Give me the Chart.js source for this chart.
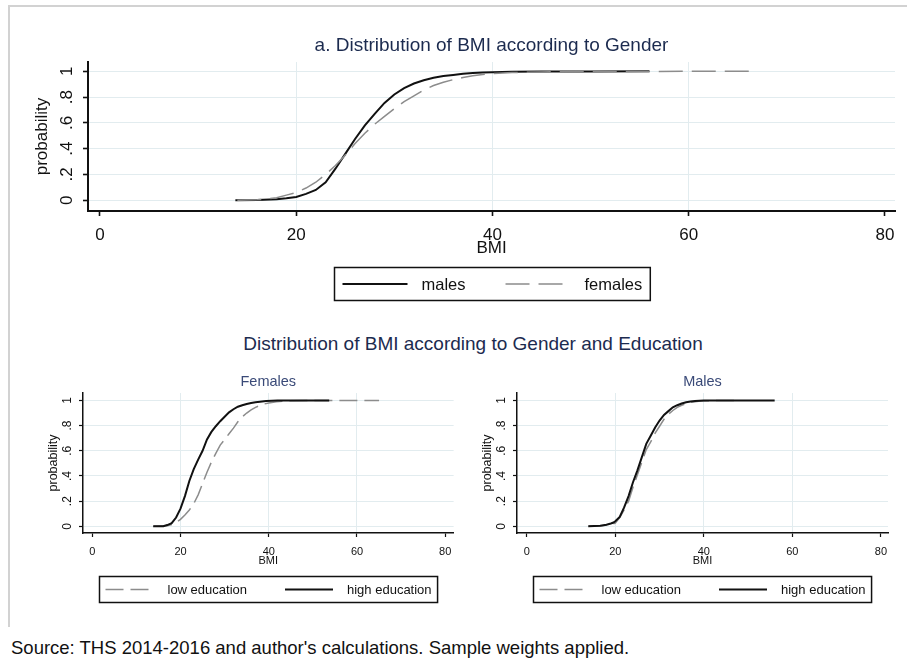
<!DOCTYPE html>
<html lang="en">
<head>
    <meta charset="UTF-8">
    <title>Distribution of BMI</title>
    <script src="https://cdn.jsdelivr.net/npm/chart.js"></script>
    <style>
        body {
            margin: 0;
            background: #fff;
            font-family: "Liberation Sans", Arial, sans-serif;
        }
        #page {
            position: relative;
            width: 907px;
            height: 663px;
            overflow: hidden;
        }
        .frame {
            position: absolute;
            left: 8px;
            top: 5px;
            width: 905px;
            height: 620px;
            border-left: 2px solid #d2d2d2;
            border-top: 2px solid #d2d2d2;
        }
        canvas { position: absolute; }
        #subTitle {
            position: absolute;
            left: 473px;
            top: 333px;
            transform: translateX(-50%);
            white-space: nowrap;
            font-size: 19px;
            line-height: 22px;
            color: #1c2b4f;
        }
        #source {
            position: absolute;
            left: 11px;
            top: 637px;
            white-space: nowrap;
            font-size: 18.5px;
            line-height: 21px;
            color: #111;
        }
    </style>
</head>
<body>
<div id="page">
    <div class="frame"></div>
    <canvas id="genderChart" width="907" height="310" style="left:0;top:0"></canvas>
    <div id="subTitle">Distribution of BMI according to Gender and Education</div>
    <canvas id="femalesChart" width="460" height="255" style="left:0;top:355px"></canvas>
    <canvas id="malesChart" width="447" height="255" style="left:460px;top:355px"></canvas>
    <div id="source">Source: THS 2014-2016 and author's calculations. Sample weights applied.</div>
</div>

<script>
    // --- данные ---
    const xTicks = [0, 20, 40, 60, 80];
    const yTicks = [0, 0.2, 0.4, 0.6, 0.8, 1];
    const yTickLabels = ['0', '.2', '.4', '.6', '.8', '1'];

    // a. по полу
    const bmiMales  = [13.8, 16, 18, 19, 20, 21, 22, 23, 24, 25, 26, 27, 28, 29, 30, 31, 32, 33, 34, 35, 36, 37, 38, 39, 40, 42, 45, 50, 56];
    const probMales = [0, 0.002, 0.008, 0.015, 0.026, 0.05, 0.08, 0.14, 0.245, 0.36, 0.475, 0.58, 0.67, 0.755, 0.82, 0.87, 0.905, 0.93, 0.95, 0.963, 0.972, 0.98, 0.986, 0.99, 0.993, 0.996, 0.998, 0.999, 1];
    const bmiFemales  = [14, 16, 17, 18, 19, 20, 21, 22, 23, 24, 25, 26, 27, 28, 29, 30, 31, 32, 33, 34, 35, 36, 37, 38, 39, 40, 42, 45, 50, 55, 66.3];
    const probFemales = [0, 0.004, 0.01, 0.02, 0.04, 0.06, 0.095, 0.14, 0.2, 0.27, 0.35, 0.44, 0.52, 0.59, 0.65, 0.71, 0.765, 0.81, 0.855, 0.89, 0.915, 0.935, 0.952, 0.965, 0.975, 0.982, 0.99, 0.995, 0.998, 0.999, 1];

    // женщины по образованию
    const bmiFemLow  = [14, 17, 18, 19, 20, 21, 22, 23, 24, 25, 26, 27, 28, 29, 30, 31, 32, 33, 34, 35, 36, 37, 38, 39, 40, 41.7, 44, 50, 65];
    const probFemLow = [0, 0.005, 0.015, 0.03, 0.055, 0.09, 0.13, 0.18, 0.25, 0.34, 0.43, 0.51, 0.58, 0.645, 0.69, 0.735, 0.78, 0.83, 0.87, 0.9, 0.925, 0.945, 0.96, 0.972, 0.98, 0.99, 0.997, 0.999, 1];
    const bmiFemHigh  = [13.8, 16.1, 17, 18, 19, 20, 21, 22, 23, 24, 25, 26, 27, 28, 29, 30, 31, 32, 33, 34, 35, 36, 37, 38, 39.4, 42, 53.7];
    const probFemHigh = [0, 0, 0.01, 0.025, 0.07, 0.14, 0.24, 0.36, 0.455, 0.53, 0.6, 0.69, 0.75, 0.795, 0.835, 0.87, 0.905, 0.93, 0.95, 0.962, 0.972, 0.98, 0.986, 0.99, 0.996, 0.999, 1];

    // мужчины по образованию
    const bmiMaleLow  = [14, 17, 19, 20, 21, 22, 23, 24, 25, 26, 27, 28, 29, 30, 31, 32, 33, 34, 35, 36, 37, 38, 39.3, 42, 48];
    const probMaleLow = [0, 0.004, 0.015, 0.025, 0.07, 0.13, 0.2, 0.31, 0.41, 0.51, 0.61, 0.67, 0.74, 0.795, 0.85, 0.89, 0.92, 0.945, 0.962, 0.975, 0.984, 0.99, 0.995, 0.999, 1];
    const bmiMaleHigh  = [13.9, 16.6, 18, 19, 19.6, 20, 21, 22, 23, 24, 25, 26, 27, 28, 29, 30, 31, 32, 33, 34, 35, 36, 37, 38, 40, 56];
    const probMaleHigh = [0, 0.005, 0.012, 0.022, 0.03, 0.04, 0.075, 0.15, 0.24, 0.35, 0.445, 0.55, 0.655, 0.72, 0.785, 0.84, 0.885, 0.915, 0.945, 0.962, 0.975, 0.985, 0.992, 0.996, 0.999, 1];

    const GRID = '#e2ecef';
    const GRAY = '#8c8c8c';
    const FONT = '"Liberation Sans", Arial, sans-serif';

    function pts(xs, ys) {
        return xs.map((x, i) => ({ x: x, y: ys[i] }));
    }

    // легенда в рамке, как в Stata
    const boxLegend = {
        id: 'boxLegend',
        afterDraw(chart, args, opts) {
            const ctx = chart.ctx;
            const area = chart.chartArea;
            ctx.save();
            ctx.font = opts.font;
            const items = opts.items.map(i => {
                const ds = chart.data.datasets[i];
                return { ds: ds, w: opts.lineLen + opts.gap + ctx.measureText(ds.label).width };
            });
            const total = items.reduce((s, it) => s + it.w, 0) + opts.itemGap * (items.length - 1) + 2 * opts.padX;
            const left = Math.round((area.left + area.right) / 2 - total / 2) + 0.5;
            const top = Math.round(area.bottom + opts.offset) + 0.5;
            ctx.lineWidth = 1.5;
            ctx.strokeStyle = '#111';
            ctx.strokeRect(left, top, total, opts.height);
            let x = left + opts.padX;
            const y = top + opts.height / 2;
            items.forEach(it => {
                ctx.beginPath();
                ctx.setLineDash(it.ds.borderDash || []);
                ctx.strokeStyle = it.ds.borderColor;
                ctx.lineWidth = it.ds.borderWidth;
                ctx.moveTo(x, y);
                ctx.lineTo(x + opts.lineLen, y);
                ctx.stroke();
                ctx.setLineDash([]);
                ctx.fillStyle = '#111';
                ctx.textBaseline = 'middle';
                ctx.textAlign = 'left';
                ctx.fillText(it.ds.label, x + opts.lineLen + opts.gap, y + 1);
                x += it.w + opts.itemGap;
            });
            ctx.restore();
        }
    };

    function panel(id, datasets, s) {
        return new Chart(document.getElementById(id), {
            type: 'line',
            data: { datasets: datasets },
            plugins: [boxLegend],
            options: {
                responsive: false,
                animation: false,
                events: [],
                layout: { padding: s.pad },
                elements: { point: { radius: 0 }, line: { tension: 0 } },
                plugins: {
                    legend: { display: false },
                    tooltip: { enabled: false },
                    title: {
                        display: true,
                        text: s.title,
                        fullSize: false,
                        color: s.titleColor,
                        font: { family: FONT, size: s.titleSize, weight: 'normal', lineHeight: 1.2 },
                        padding: s.titlePad
                    },
                    boxLegend: s.legend
                },
                scales: {
                    x: {
                        type: 'linear',
                        min: s.xMin,
                        max: s.xMax,
                        afterBuildTicks: sc => { sc.ticks = xTicks.map(v => ({ value: v })); },
                        afterFit: sc => { sc.height = s.xH; },
                        border: { color: '#111', width: s.axisW },
                        grid: {
                            color: c => (c.tick && c.tick.value > 0 && c.tick.value < 80) ? GRID : 'rgba(0,0,0,0)',
                            lineWidth: 1,
                            tickColor: '#111',
                            tickWidth: s.axisW * 0.8,
                            tickLength: s.tl
                        },
                        ticks: {
                            color: '#111',
                            maxRotation: 0,
                            autoSkip: false,
                            padding: s.xPad,
                            font: { family: FONT, size: s.tickSize }
                        },
                        title: {
                            display: true,
                            text: 'BMI',
                            color: '#111',
                            font: { family: FONT, size: s.tickSize, lineHeight: 1.2 },
                            padding: { top: 0, bottom: s.xTitlePad }
                        }
                    },
                    y: {
                        min: s.yMin,
                        max: s.yMax,
                        afterBuildTicks: sc => { sc.ticks = yTicks.map(v => ({ value: v })); },
                        afterFit: sc => { sc.width = s.yW; },
                        border: { color: '#111', width: s.axisW },
                        grid: {
                            color: GRID,
                            lineWidth: 1,
                            tickColor: '#111',
                            tickWidth: s.axisW * 0.8,
                            tickLength: s.tl
                        },
                        ticks: {
                            color: '#111',
                            minRotation: 90,
                            maxRotation: 90,
                            crossAlign: 'center',
                            autoSkip: false,
                            padding: s.yPad,
                            font: { family: FONT, size: s.yTickSize || s.tickSize },
                            callback: (v, i) => yTickLabels[i]
                        },
                        title: {
                            display: true,
                            text: 'probability',
                            color: '#111',
                            font: { family: FONT, size: s.yTitleSize, lineHeight: 1.2 },
                            padding: { top: s.yTitlePad, bottom: 0 }
                        }
                    }
                }
            }
        });
    }

    // a. Distribution of BMI according to Gender
    panel('genderChart', [
        { label: 'males', data: pts(bmiMales, probMales), borderColor: '#111', borderWidth: 2, order: 1 },
        { label: 'females', data: pts(bmiFemales, probFemales), borderColor: GRAY, borderWidth: 1.5, borderDash: [24, 9], order: 0 }
    ], {
        title: 'a. Distribution of BMI according to Gender', titleColor: '#1c2b4f', titleSize: 19,
        titlePad: { top: 34.6, bottom: 4.6 },
        pad: { left: 30, right: 12, top: 0, bottom: 10 },
        xMin: -1.22, xMax: 81.03, yMin: -0.083, yMax: 1.072,
        xH: 89, yW: 58, axisW: 2, tl: 5, tickSize: 17, yTitleSize: 17,
        xPad: 9, yPad: 9, xTitlePad: 41, yTitlePad: 2,
        legend: { items: [0, 1], font: '16.5px ' + FONT, lineLen: 65, gap: 14, itemGap: 40, padX: 8, offset: 56, height: 33 }
    });

    const small = {
        titleColor: '#3a4a78', titleSize: 14.5,
        titlePad: { top: 18, bottom: 2.6 },
        yMin: -0.053, yMax: 1.059,
        xH: 40, yW: 43, axisW: 1.5, tl: 4, tickSize: 11, yTickSize: 12, yTitleSize: 12.5,
        xPad: 8.5, yPad: 6.5, xTitlePad: 5.4, yTitlePad: 6.5,
        legend: { items: [0, 1], font: '13px ' + FONT, lineLen: 48, gap: 14, itemGap: 38, padX: 6, offset: 43, height: 26 }
    };

    panel('femalesChart', [
        { label: 'low education', data: pts(bmiFemLow, probFemLow), borderColor: GRAY, borderWidth: 1.5, borderDash: [18, 7], order: 1 },
        { label: 'high education', data: pts(bmiFemHigh, probFemHigh), borderColor: '#111', borderWidth: 2, order: 0 }
    ], Object.assign({}, small, {
        title: 'Females',
        pad: { left: 40, right: 6, top: 0, bottom: 37 },
        xMin: -2.1, xMax: 81.9
    }));

    panel('malesChart', [
        { label: 'low education', data: pts(bmiMaleLow, probMaleLow), borderColor: GRAY, borderWidth: 1.5, borderDash: [18, 7], order: 1 },
        { label: 'high education', data: pts(bmiMaleHigh, probMaleHigh), borderColor: '#111', borderWidth: 2, order: 0 }
    ], Object.assign({}, small, {
        title: 'Males',
        pad: { left: 14, right: 19, top: 0, bottom: 37 },
        xMin: -2.2, xMax: 81.6
    }));
</script>
</body>
</html>
